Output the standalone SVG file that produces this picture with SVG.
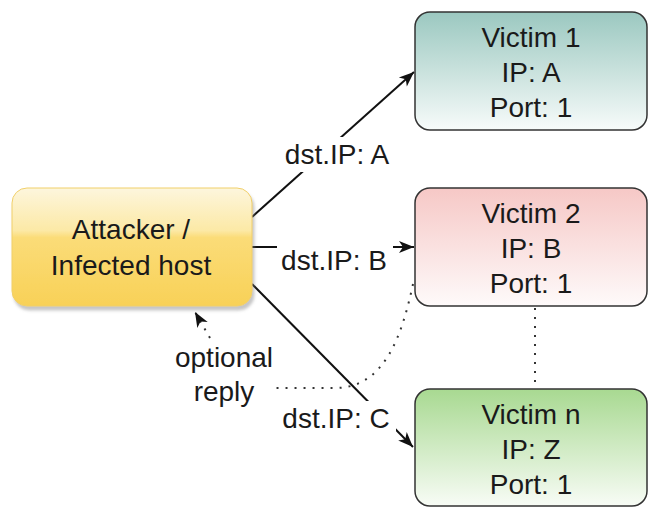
<svg xmlns="http://www.w3.org/2000/svg" width="651" height="509" viewBox="0 0 651 509">
  <defs>
    <linearGradient id="gAtt" x1="0" y1="0" x2="0" y2="1">
      <stop offset="0" stop-color="#fdf6dd"/>
      <stop offset="0.36" stop-color="#fce9a6"/>
      <stop offset="0.42" stop-color="#fbdc78"/>
      <stop offset="1" stop-color="#f8d157"/>
    </linearGradient>
    <linearGradient id="gV1" x1="0" y1="0" x2="0" y2="1">
      <stop offset="0" stop-color="#9bc8c0"/>
      <stop offset="1" stop-color="#f7fbfa"/>
    </linearGradient>
    <linearGradient id="gV2" x1="0" y1="0" x2="0" y2="1">
      <stop offset="0" stop-color="#f6c8c6"/>
      <stop offset="1" stop-color="#fefafa"/>
    </linearGradient>
    <linearGradient id="gV3" x1="0" y1="0" x2="0" y2="1">
      <stop offset="0" stop-color="#a8d991"/>
      <stop offset="1" stop-color="#f8fcf6"/>
    </linearGradient>
    <filter id="shadow" x="-10%" y="-10%" width="125%" height="130%">
      <feDropShadow dx="2" dy="4" stdDeviation="1.5" flood-color="#808080" flood-opacity="0.45"/>
    </filter>
    <marker id="arrow" markerUnits="userSpaceOnUse" markerWidth="18" markerHeight="14" refX="16" refY="7" orient="auto">
      <path d="M1,1 L16,7 L1,13 L5,7 Z" fill="#111"/>
    </marker>
  </defs>
  <style>
    .box { stroke: #333; stroke-width: 1.5; }
    .txt { font-family: "Liberation Sans", Arial, sans-serif; font-size: 28px; fill: #1a1a1a; text-anchor: middle; }
    .edge { fill: none; stroke: #111; stroke-width: 2; }
    .dot { fill: none; stroke: #333; stroke-width: 2; stroke-dasharray: 2 7; }
    .lblbg { fill: #fff; }
  </style>

  <g id="connectors">
    <path class="edge" d="M252 217 L414 72" marker-end="url(#arrow)"/>
    <path class="edge" d="M252 247 L414 247" marker-end="url(#arrow)"/>
    <path class="edge" d="M252 284 L413 447" marker-end="url(#arrow)"/>
    <path class="dot" d="M413 284 C402 335 385 388 335 388 L276 388"/>
    <path class="dot" d="M535 308 L535 388"/>
    <path class="dot" d="M210 338 L195 312" marker-end="url(#arrow)"/>
    <rect class="lblbg" x="279" y="137" width="116" height="35"/>
    <text class="txt" x="337" y="164">dst.IP: A</text>
    <rect class="lblbg" x="277" y="233" width="116" height="40"/>
    <text class="txt" x="334" y="270">dst.IP: B</text>
    <rect class="lblbg" x="278" y="401" width="118" height="33"/>
    <text class="txt" x="336" y="428">dst.IP: C</text>
    <text class="txt" x="224" y="367">optional</text>
    <text class="txt" x="224" y="401">reply</text>
  </g>

  <g id="attacker">
    <rect x="12" y="188" width="240" height="118" rx="15" fill="url(#gAtt)" stroke="#f0cf6a" stroke-width="1" filter="url(#shadow)"/>
    <text class="txt" x="131" y="239">Attacker /</text>
    <text class="txt" x="131" y="275">Infected host</text>
  </g>

  <g id="victim1">
    <rect class="box" x="415" y="12" width="232" height="118" rx="15" fill="url(#gV1)"/>
    <text class="txt" x="531" y="47">Victim 1</text>
    <text class="txt" x="531" y="82">IP: A</text>
    <text class="txt" x="531" y="117">Port: 1</text>
  </g>

  <g id="victim2">
    <rect class="box" x="415" y="188" width="232" height="118" rx="15" fill="url(#gV2)"/>
    <text class="txt" x="531" y="223">Victim 2</text>
    <text class="txt" x="531" y="258">IP: B</text>
    <text class="txt" x="531" y="293">Port: 1</text>
  </g>

  <g id="victimn">
    <rect class="box" x="415" y="389" width="232" height="117" rx="15" fill="url(#gV3)"/>
    <text class="txt" x="531" y="424">Victim n</text>
    <text class="txt" x="531" y="459">IP: Z</text>
    <text class="txt" x="531" y="494">Port: 1</text>
  </g>
</svg>
